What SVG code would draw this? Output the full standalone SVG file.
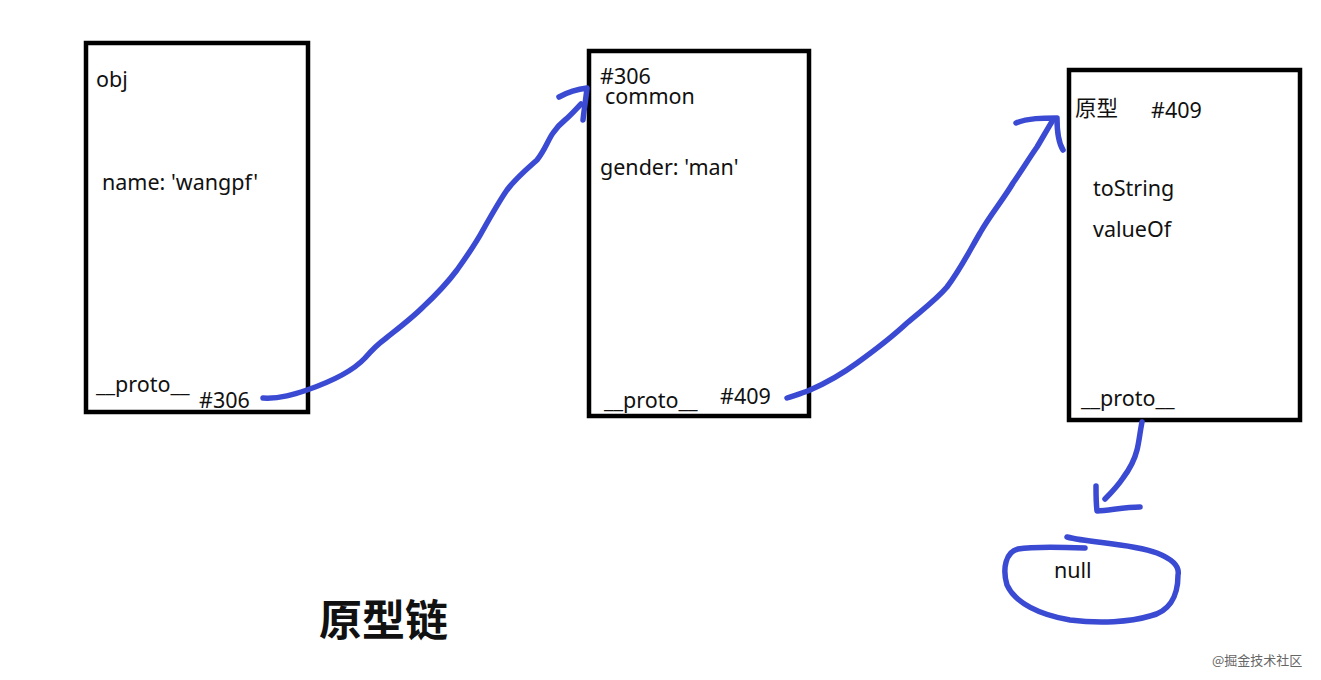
<svg xmlns="http://www.w3.org/2000/svg" width="1321" height="680" viewBox="0 0 1321 680">
<style>
.box{fill:none;stroke:#000;stroke-width:4.5}
.t{font-family:"Noto Sans","Noto Sans CJK SC",sans-serif;font-size:21.5px;fill:#111}
.ink{fill:none;stroke:#3b4ad2;stroke-width:5.5;stroke-linecap:round;stroke-linejoin:round}
</style>
<rect width="1321" height="680" fill="#fff"/>
<g id="node-obj">
<rect class="box" x="86" y="43" width="222" height="369"/>
<text class="t" x="96" y="87">obj</text>
<text class="t" x="102" y="190">name: 'wangpf'</text>
<text class="t" x="96" y="392">__proto__</text>
<text class="t" x="199" y="408">#306</text>
</g>
<g id="node-common">
<rect class="box" x="589" y="51" width="220" height="365"/>
<text class="t" x="600" y="84">#306</text>
<text class="t" x="605" y="104">common</text>
<text class="t" x="600" y="175">gender: 'man'</text>
<text class="t" x="604" y="408">__proto__</text>
<text class="t" x="720" y="404">#409</text>
</g>
<g id="node-prototype">
<rect class="box" x="1069" y="70" width="231" height="350"/>
<text class="t" x="1075" y="116">原型</text>
<text class="t" x="1151" y="118">#409</text>
<text class="t" x="1093" y="196">toString</text>
<text class="t" x="1093" y="237">valueOf</text>
<text class="t" x="1081" y="406">__proto__</text>
</g>
<g id="node-null">
<path class="ink" d="M1067,537 C1090,543 1130,543 1157,553 C1172,559 1180,566 1178,575 C1178,598 1168,612 1150,616 C1130,622 1100,624 1070,620 C1040,615 1015,603 1007,585 C1002,568 1006,552 1018,549 C1035,546 1060,547 1085,548"/>
<text class="t" x="1054" y="578">null</text>
</g>
<g id="connectors">
<path class="ink" d="M263,398 C280,399 295,394 307,390 C330,382 352,372 365,358 C372,350 378,344 385,339 C400,327 412,318 423,307 C437,294 448,282 457,270 C467,256 476,243 483,230 C492,214 500,200 507,190 C516,178 528,168 537,160 C545,150 548,140 553,133 C557,127 560,124 565,120 C571,115 577,108 581,104"/>
<path class="ink" d="M559,97 C568,92 578,89 587,88 C586,98 584,110 583,120"/>
<path class="ink" d="M787,398 C796,395 803,393 810,390 C826,383 842,374 857,363 C875,350 892,337 907,323 C922,310 936,300 947,287 C960,270 970,250 980,233 C990,215 1003,200 1013,183 C1022,170 1030,157 1037,147 C1043,137 1048,128 1053,120"/>
<path class="ink" d="M1016,123 C1028,118 1043,118 1057,118 C1057,130 1058,142 1063,150"/>
<path class="ink" d="M1142,422 C1140,432 1139,442 1137,450 C1134,462 1129,470 1123,478 C1117,487 1110,494 1105,499"/>
<path class="ink" d="M1096,486 C1096,495 1096,503 1097,511 C1111,510 1126,507 1140,507"/>
</g>
<text x="319" y="636" style="font-family:'Noto Sans CJK SC',sans-serif;font-size:43px;font-weight:bold;fill:#111">原型链</text>
<text x="1212" y="665" style="font-family:'Noto Sans CJK SC',sans-serif;font-size:13px;fill:#666">@掘金技术社区</text>
</svg>
